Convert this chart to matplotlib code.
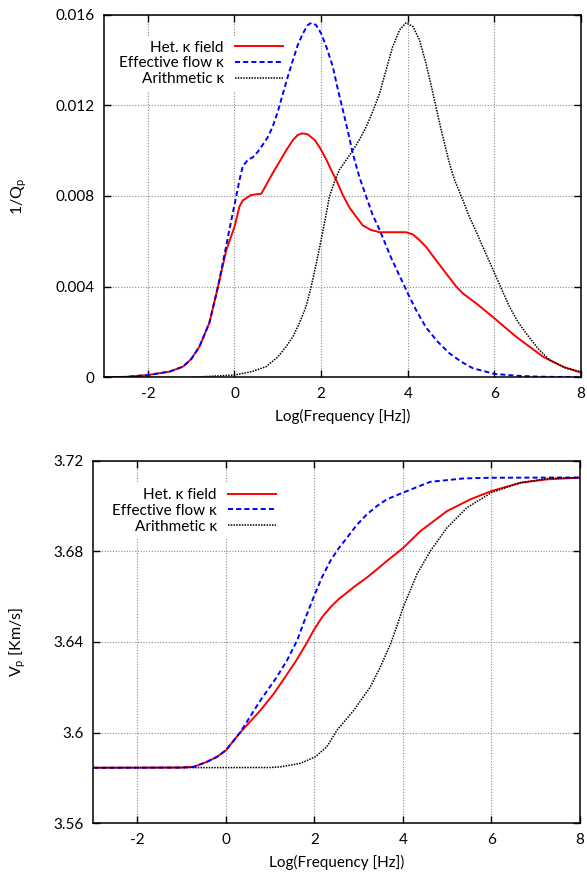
import matplotlib
matplotlib.use("Agg")
import matplotlib.pyplot as plt

plt.rcParams['font.family'] = ['Lato', 'DejaVu Sans']
plt.rcParams['axes.unicode_minus'] = False
plt.rcParams['mathtext.fontset'] = 'custom'
plt.rcParams['mathtext.rm'] = 'Lato'
plt.rcParams['mathtext.it'] = 'Lato'

# ---------------- attenuation 1/Qp ----------------
het_q_x = [-3, -2.5, -2, -1.5, -1.19, -1.0, -0.81, -0.58, -0.38, -0.19, 0.0, 0.115, 0.19,
           0.38, 0.62, 0.73, 0.88, 1.04, 1.19, 1.35, 1.46, 1.56, 1.69, 1.85, 1.98, 2.12,
           2.23, 2.35, 2.5, 2.65, 2.81, 2.96, 3.15, 3.35, 3.65, 3.96, 4.12, 4.27, 4.42,
           4.65, 4.88, 5.12, 5.27, 5.58, 5.81, 6.0, 6.27, 6.5, 6.81, 7.12, 7.58, 8.0]
het_q_y = [0.0, 0.00002, 0.0001, 0.00025, 0.00047, 0.0008, 0.00135, 0.0024, 0.0040, 0.0056,
           0.00664, 0.00753, 0.0078, 0.00804, 0.0081, 0.00848, 0.0090, 0.00951, 0.0100,
           0.01047, 0.01069, 0.01076, 0.01072, 0.01047, 0.0101, 0.0096, 0.00915, 0.0087,
           0.00804, 0.0075, 0.00708, 0.0067, 0.0065, 0.0064, 0.0064, 0.0064, 0.0063,
           0.00605, 0.00576, 0.00517, 0.00459, 0.0040, 0.0037, 0.00326, 0.0029, 0.0026,
           0.00216, 0.00179, 0.00135, 0.00091, 0.00047, 0.0002]

eff_q_x = [-3, -2.5, -2, -1.5, -1.19, -1.0, -0.81, -0.58, -0.38, -0.19, -0.12, 0.04, 0.115,
           0.19, 0.31, 0.42, 0.54, 0.65, 0.77, 0.88, 1.0, 1.12, 1.23, 1.35, 1.46, 1.58,
           1.69, 1.78, 1.88, 2.0, 2.12, 2.27, 2.38, 2.5, 2.62, 2.73, 2.88, 3.04, 3.19,
           3.35, 3.62, 4.0, 4.19, 4.42, 4.69, 4.96, 5.23, 5.5, 6.0, 6.5, 7.0, 8.0]
eff_q_y = [0.0, 0.00002, 0.0001, 0.00025, 0.00047, 0.0008, 0.00135, 0.0024, 0.0040, 0.0058,
           0.0065, 0.00797, 0.0087, 0.0093, 0.0096, 0.0097, 0.00995, 0.01025, 0.0106,
           0.01105, 0.01172, 0.01253, 0.01326, 0.0140, 0.01466, 0.01517, 0.01554, 0.01564,
           0.01554, 0.01517, 0.01458, 0.0137, 0.01275, 0.0118, 0.01083, 0.00988, 0.00885,
           0.00797, 0.00716, 0.0065, 0.00525, 0.0037, 0.00297, 0.0022, 0.00157, 0.00106,
           0.00069, 0.0004, 0.00015, 0.00007, 0.00003, 0.0]

ari_q_x = [-3, -1, 0, 0.4, 0.73, 1.0, 1.19, 1.35, 1.5, 1.65, 1.77, 1.88, 2.0, 2.12, 2.19,
           2.31, 2.42, 2.58, 2.73, 2.88, 3.04, 3.19, 3.35, 3.5, 3.65, 3.81, 3.96, 4.12,
           4.27, 4.42, 4.58, 4.77, 4.96, 5.08, 5.27, 5.42, 5.58, 5.73, 6.0, 6.19, 6.35,
           6.54, 6.73, 7.0, 7.27, 7.65, 8.0]
ari_q_y = [0.0, 0.0, 0.0001, 0.00025, 0.00047, 0.0009, 0.00135, 0.0018, 0.0024, 0.00311,
           0.0040, 0.00495, 0.00606, 0.00723, 0.00797, 0.00863, 0.00915, 0.00959, 0.0100,
           0.01047, 0.01105, 0.01172, 0.01253, 0.01356, 0.01458, 0.01532, 0.01564,
           0.01547, 0.01488, 0.01385, 0.01253, 0.01091, 0.00944, 0.0087, 0.00782, 0.00708,
           0.00642, 0.00576, 0.0046, 0.00378, 0.0031, 0.00245, 0.00194, 0.00128, 0.00076,
           0.0004, 0.00025]

# ---------------- velocity Vp ----------------
het_v_x = [-3, -1, -0.73, -0.43, -0.2, 0.0, 0.32, 0.78, 1.08, 1.34, 1.59, 1.83, 1.98, 2.17,
           2.36, 2.55, 2.74, 2.96, 3.19, 3.42, 3.64, 4.0, 4.4, 5.0, 5.53, 6.0, 6.66, 7.26,
           8.0]
het_v_y = [3.5845, 3.5846, 3.5849, 3.5871, 3.5893, 3.5922, 3.600, 3.6098, 3.6171, 3.6245,
           3.6318, 3.6396, 3.645, 3.6508, 3.6552, 3.6589, 3.6618, 3.6652, 3.6684, 3.6721,
           3.6757, 3.6813, 3.6889, 3.6977, 3.7029, 3.7065, 3.7102, 3.7117, 3.7124]

eff_v_x = [-3, -1, -0.73, -0.43, -0.2, 0.0, 0.32, 0.78, 1.15, 1.38, 1.61, 1.79, 1.98, 2.17,
           2.36, 2.55, 2.74, 2.96, 3.19, 3.42, 3.64, 4.0, 4.62, 5.38, 6.0, 8.0]
eff_v_y = [3.5845, 3.5846, 3.5849, 3.5871, 3.5893, 3.5922, 3.600, 3.6142, 3.6245, 3.6318,
           3.6406, 3.6501, 3.6596, 3.6684, 3.6757, 3.6813, 3.686, 3.6916, 3.6963, 3.700,
           3.7029, 3.7058, 3.7106, 3.7121, 3.7124, 3.7125]

ari_v_x = [-3, 1.0, 1.23, 1.68, 2.02, 2.28, 2.51, 2.89, 3.26, 3.49, 3.72, 3.85, 4.0, 4.32,
           4.62, 5.0, 5.45, 6.0, 6.66, 7.3, 8.0]
ari_v_y = [3.5845, 3.5846, 3.5849, 3.5864, 3.5893, 3.5937, 3.601, 3.6098, 3.620, 3.6288,
           3.6390, 3.646, 3.6548, 3.6699, 3.680, 3.6904, 3.6992, 3.7058, 3.7102, 3.7121,
           3.7125]

labels = ['Het. κ field', 'Effective flow κ', 'Arithmetic κ']
x_ticks = [-2, 0, 2, 4, 6, 8]
q_ticks = [0, 0.004, 0.008, 0.012, 0.016]
q_tick_labels = ['0', '0.004', '0.008', '0.012', '0.016']
v_ticks = [3.56, 3.60, 3.64, 3.68, 3.72]
v_tick_labels = ['3.56', '3.6', '3.64', '3.68', '3.72']

fig = plt.figure(figsize=(5.87, 8.74), dpi=100)
ax1 = fig.add_axes([0.178, 0.5683, 0.812, 0.415])
ax2 = fig.add_axes([0.1588, 0.0580, 0.8288, 0.4151])

styles = [dict(color='#ff0000', lw=1.4, ls='-'),
          dict(color='#0000ff', lw=1.4, ls=(0, (2.6, 1.6))),
          dict(color='#000000', lw=1.1, ls=(0, (1, 0.8)))]


def style_axes(ax):
    ax.set_xlim(-3, 8)
    ax.set_xticks(x_ticks)
    ax.grid(True, color='#8c8c8c', ls=(0, (1, 1.5)), lw=0.8)
    ax.set_axisbelow(True)
    ax.tick_params(direction='in', top=True, right=True, length=5, width=1.0,
                   labelsize=11, pad=7)
    for s in ax.spines.values():
        s.set_linewidth(1.1)
    ax.set_xlabel('Log(Frequency [Hz])', fontsize=11, labelpad=6)


for ax, series in ((ax1, [(het_q_x, het_q_y), (eff_q_x, eff_q_y), (ari_q_x, ari_q_y)]),
                   (ax2, [(het_v_x, het_v_y), (eff_v_x, eff_v_y), (ari_v_x, ari_v_y)])):
    for (xs, ys), st, lab in zip(series, styles, labels):
        ax.plot(xs, ys, label=lab, **st)
    style_axes(ax)

ax1.set_ylim(0, 0.016)
ax1.set_yticks(q_ticks)
ax1.set_yticklabels(q_tick_labels)
ax1.set_ylabel(r'1/Q$_\mathregular{p}$', fontsize=11.5)
ax1.yaxis.set_label_coords(-0.158, 0.5)

ax2.set_ylim(3.56, 3.72)
ax2.set_yticks(v_ticks)
ax2.set_yticklabels(v_tick_labels)
ax2.set_ylabel(r'V$_\mathregular{p}$ [Km/s]', fontsize=11.5)
ax2.yaxis.set_label_coords(-0.134, 0.5)

for ax, anchor in ((ax1, (0.385, 0.941)), (ax2, (0.386, 0.937))):
    leg = ax.legend(loc='upper right', bbox_to_anchor=anchor, markerfirst=False,
                    frameon=True, fancybox=False, framealpha=1.0, edgecolor='none',
                    facecolor='white', fontsize=11, handlelength=3.2,
                    handletextpad=0.7, labelspacing=0.12, borderpad=0.3,
                    borderaxespad=0.0)
    leg.set_zorder(1.8)

fig.savefig('out.png', dpi=100)
